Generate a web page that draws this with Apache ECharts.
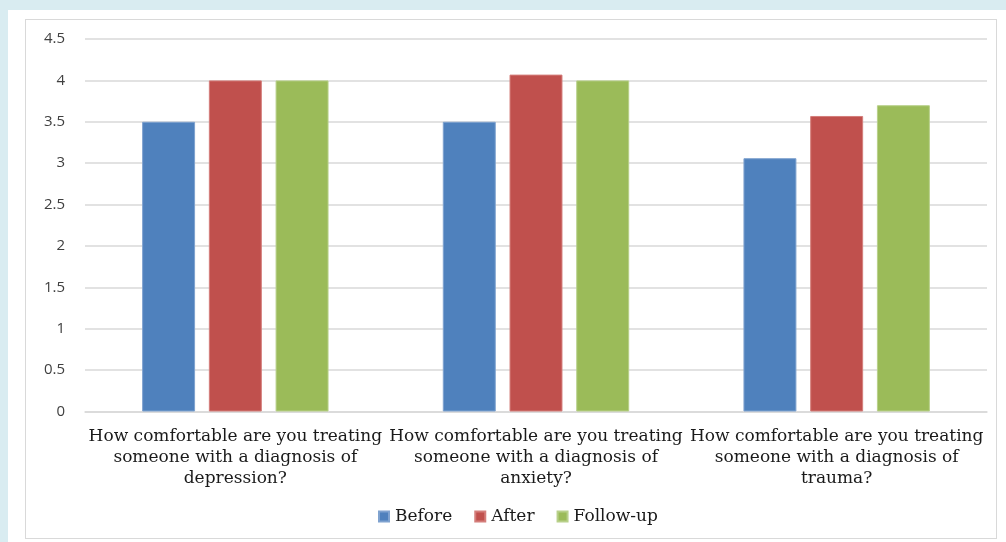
<!DOCTYPE html>
<html>
<head>
<meta charset="utf-8">
<script src="https://cdn.jsdelivr.net/npm/echarts@6/dist/echarts.min.js"></script>
<style>
  html, body { margin: 0; padding: 0; }
  body { width: 1006px; height: 542px; background: #d9ecf1; position: relative; overflow: hidden; }
  #sheet { position: absolute; left: 8px; top: 10px; width: 1006px; height: 540px; background: #ffffff; }
  #frame { position: absolute; left: 25px; top: 19px; width: 970px; height: 518px; border: 1.5px solid #d9d9d9; background: #ffffff; }
  #chart { position: absolute; left: 0; top: 0; width: 1006px; height: 542px; }
</style>
</head>
<body>
<div id="sheet"></div>
<div id="frame"></div>
<div id="chart"></div>
<script>
// Survey questions (x axis categories)
const categories = [
  'How comfortable are you treating\nsomeone with a diagnosis of\ndepression?',
  'How comfortable are you treating\nsomeone with a diagnosis of\nanxiety?',
  'How comfortable are you treating\nsomeone with a diagnosis of\ntrauma?'
];

// Mean comfort ratings per time point
const before   = [3.5, 3.5, 3.06];
const after    = [4.0, 4.07, 3.57];
const followUp = [4.0, 4.0, 3.7];

const seriesNames = ['Before', 'After', 'Follow-up'];
const seriesColors = ['#4f81bd', '#c0504d', '#9bbb59'];
const seriesBorders = ['#7fa2cf', '#d47e7b', '#b8d08a'];

// Y axis ticks
const yMin = 0, yMax = 4.5, yStep = 0.5;

const chart = echarts.init(document.getElementById('chart'), null, { renderer: 'canvas' });

const serifFont = '"DejaVu Serif", "Liberation Serif", serif';

const makeSeries = (name, data, i) => ({
  name: name,
  type: 'bar',
  data: data,
  barGap: '26%',
  barCategoryGap: '38%',
  itemStyle: { color: seriesColors[i], borderColor: seriesBorders[i], borderWidth: 1 }
});

chart.setOption({
  animation: false,
  backgroundColor: 'transparent',
  grid: { left: 85, right: 19, top: 39, bottom: 130.5, containLabel: false },
  legend: {
    data: seriesNames,
    left: 373,
    top: 503,
    itemWidth: 10,
    itemHeight: 10,
    itemGap: 22,
    icon: 'rect',
    textStyle: { fontFamily: serifFont, fontSize: 17, color: '#1a1a1a', padding: [0, 0, 0, 1] }
  },
  xAxis: {
    type: 'category',
    data: categories,
    axisLine: { show: true, lineStyle: { color: '#d9d9d9', width: 1.5 } },
    axisTick: { show: false },
    axisLabel: {
      interval: 0,
      margin: 15,
      fontFamily: serifFont,
      fontSize: 17,
      lineHeight: 21,
      color: '#1a1a1a',
      align: 'center'
    }
  },
  yAxis: {
    type: 'value',
    min: yMin,
    max: yMax,
    interval: yStep,
    axisLine: { show: false },
    axisTick: { show: false },
    splitLine: { lineStyle: { color: '#d9d9d9', width: 1.5 } },
    axisLabel: {
      margin: 20,
      fontFamily: '"Open Sans", "Noto Sans", sans-serif',
      fontSize: 15,
      color: '#404040'
    }
  },
  series: [
    makeSeries(seriesNames[0], before, 0),
    makeSeries(seriesNames[1], after, 1),
    makeSeries(seriesNames[2], followUp, 2)
  ]
});
</script>
</body>
</html>
